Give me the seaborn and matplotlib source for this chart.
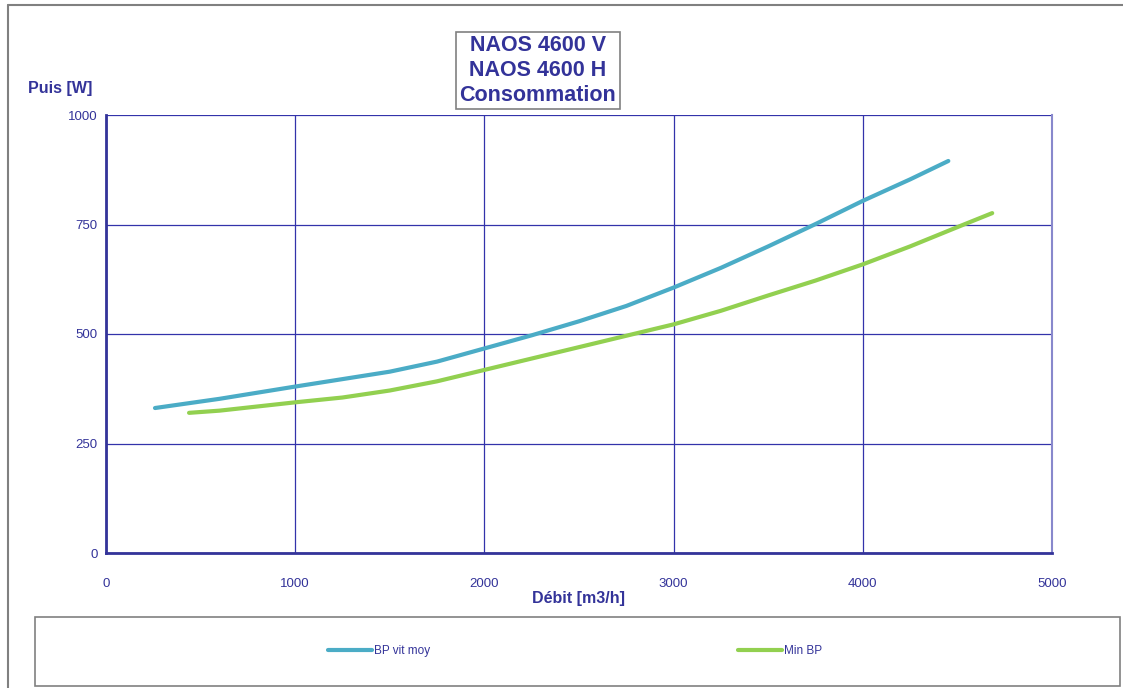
import matplotlib
matplotlib.use("Agg")
import matplotlib.pyplot as plt
import seaborn as sns
import pandas as pd
from matplotlib.patches import Rectangle
from matplotlib.lines import Line2D

# ---- data ----
blue_x = [259, 600, 1000, 1250, 1500, 1750, 2000, 2250, 2500, 2750, 3000, 3250,
          3500, 3750, 4000, 4250, 4452]
blue_y = [331, 352, 380, 397, 414, 437, 467, 497, 529, 564, 606, 651,
          700, 751, 804, 853, 895]
green_x = [439, 600, 1000, 1250, 1500, 1750, 2000, 2250, 2500, 2750, 3000, 3250,
           3500, 3750, 4000, 4250, 4500, 4684]
green_y = [320, 325, 344, 355, 371, 392, 418, 444, 470, 496, 522, 553,
           588, 622, 659, 700, 744, 776]
series_names = ["BP vit moy", "Min BP"]
x_ticks = [0, 1000, 2000, 3000, 4000, 5000]
y_ticks = [0, 250, 500, 750, 1000]
title_lines = ["NAOS 4600 V", "NAOS 4600 H", "Consommation"]
x_label = "Débit [m3/h]"
y_label = "Puis [W]"

sns.set_style("white")
plt.rcParams['font.family'] = ['Liberation Sans', 'DejaVu Sans']

navy = "#333399"
colors = ["#4BACC6", "#92D050"]

df = pd.concat([
    pd.DataFrame({"x": blue_x, "y": blue_y, "s": series_names[0]}),
    pd.DataFrame({"x": green_x, "y": green_y, "s": series_names[1]}),
])

fig = plt.figure(figsize=(11.23, 6.88), dpi=100)
W, H = 1123, 688
ax = fig.add_axes([106 / W, 1 - 553 / H, (1052 - 106) / W, (553 - 115) / H])

sns.lineplot(data=df, x="x", y="y", hue="s", palette=colors, linewidth=3,
             ax=ax, legend=False, sort=True)
for ln in ax.get_lines():
    ln.set_solid_capstyle("round")
    ln.set_solid_joinstyle("round")

ax.set_xlim(0, 5000)
ax.set_ylim(0, 1000)
ax.set_xticks(x_ticks)
ax.set_yticks(y_ticks)
ax.set_xticklabels([str(v) for v in x_ticks], fontsize=9.5)
ax.set_yticklabels([str(v) for v in y_ticks], fontsize=9.5)
ax.tick_params(axis="x", direction="inout", length=8, width=1.2, color=navy, pad=14)
ax.tick_params(axis="y", direction="out", length=4, width=1.2, color=navy, pad=2)
ax.grid(True, color="#3333aa", linewidth=0.9)
ax.set_axisbelow(True)
for side in ["left", "bottom"]:
    ax.spines[side].set_color(navy)
    ax.spines[side].set_linewidth(2)
ax.spines["top"].set_visible(False)
ax.spines["right"].set_color("#8888cc")
ax.spines["right"].set_linewidth(1.5)
ax.set_xlabel(x_label, color=navy, fontsize=11.5, fontweight="bold", labelpad=1)
ax.set_ylabel("")
for lab in ax.get_xticklabels() + ax.get_yticklabels():
    lab.set_color(navy)

fig.text(28 / W, 1 - 88 / H, y_label, color=navy, fontsize=11.5, fontweight="bold",
         ha="left", va="center")

# title box
fig.text(538 / W, 1 - 70.5 / H, "\n".join(title_lines), color=navy, fontsize=15.5,
         fontweight="bold", ha="center", va="center", linespacing=1.25,
         bbox=dict(boxstyle="square,pad=0.15", fc="white", ec="#808080", lw=1.2))

# outer frame lines
fig.add_artist(Line2D([8 / W, 8 / W], [0, 1 - 5 / H], color="#808080", lw=1.5,
                      transform=fig.transFigure))
fig.add_artist(Line2D([8 / W, 1], [1 - 5 / H, 1 - 5 / H], color="#808080", lw=1.5,
                      transform=fig.transFigure))

# legend box
fig.add_artist(Rectangle((35 / W, 1 - 686 / H), (1120 - 35) / W, (686 - 617) / H,
                         transform=fig.transFigure, fill=False, ec="#808080", lw=1.2))
handles = [Line2D([0], [0], color=c, lw=3, solid_capstyle="round") for c in colors]
leg = fig.legend(handles, series_names, loc="center left",
                 bbox_to_anchor=(328 / W, 1 - 651 / H), ncol=2, frameon=False,
                 fontsize=8.5, handlelength=3.7, handletextpad=0.2, columnspacing=26.1,
                 borderpad=0, borderaxespad=0)
for t in leg.get_texts():
    t.set_color(navy)

fig.savefig("out.png", dpi=100)
